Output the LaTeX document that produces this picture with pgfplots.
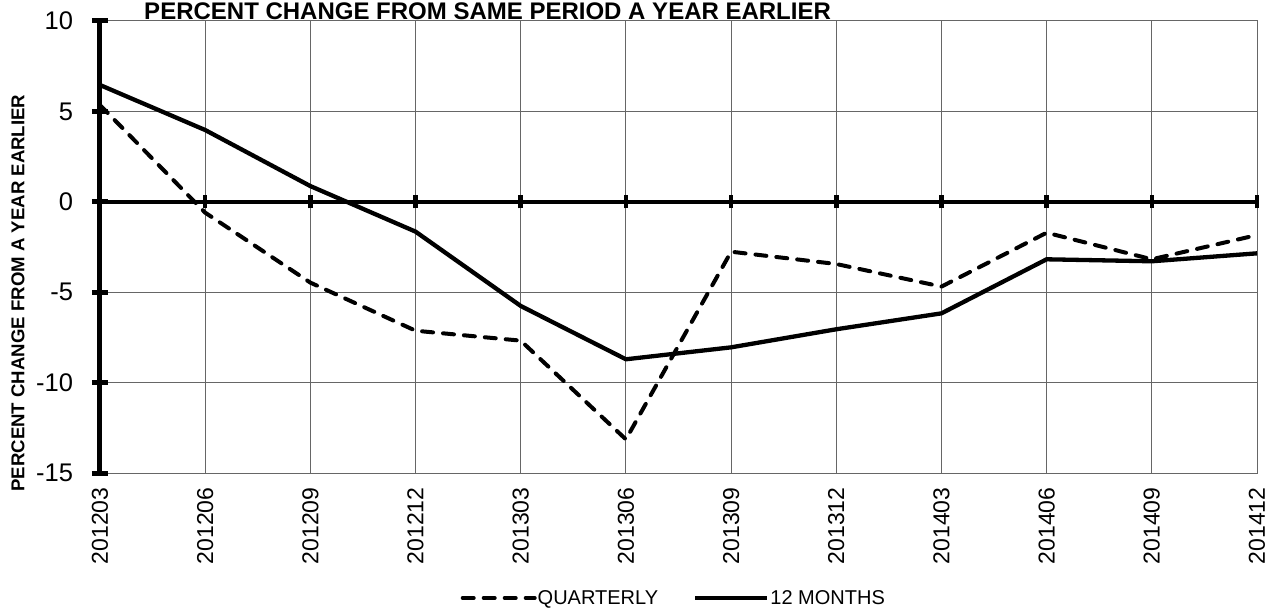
\documentclass[border=0pt]{standalone}
\usepackage{fontspec}
\setmainfont{Liberation Sans}
\usepackage{pgfplots}
\pgfplotsset{compat=1.18}
\usepackage{pgfplotstable}

\pgfplotstableread{
x q m
0 5.35 6.46
1 -0.60 3.97
2 -4.47 0.87
3 -7.13 -1.65
4 -7.68 -5.76
5 -13.14 -8.71
6 -2.76 -8.05
7 -3.44 -7.05
8 -4.69 -6.17
9 -1.71 -3.18
10 -3.18 -3.29
11 -1.84 -2.85
}\data

\begin{document}
\begin{tikzpicture}
\begin{axis}[name=ax, scale only axis, width=1157pt, height=452pt,
  xmin=0, xmax=11, ymin=-15, ymax=10, clip=false,
  xtick={0,...,11},
  xticklabels={201203,201206,201209,201212,201303,201306,201309,201312,201403,201406,201409,201412},
  x tick label style={rotate=90, anchor=east, yshift=0pt, xshift=-11pt, font=\fontsize{23}{26}\selectfont},
  ytick={-15,-10,...,10},
  y tick label style={xshift=-23.5pt, font=\fontsize{25.5}{28}\selectfont},
  /pgf/number format/assume math mode=true,
  major tick length=0pt,
  grid=major, grid style={black!60, line width=1pt},
  axis line style={black!60, line width=1pt},
  legend columns=2,
  legend style={at={(rel axis cs:0.4955,-0.2765)}, anchor=center, draw=none, fill=none,
    font=\fontsize{20}{22}\selectfont,
    nodes={inner sep=1pt},
    /tikz/every even column/.append style={column sep=34pt}},
  legend image code/.code={\draw[#1] (0pt,0pt) -- (72pt,0pt);},
]
\draw[line width=4.5pt] (axis cs:0,0) -- (axis cs:11,0);
\pgfplotsinvokeforeach{1,...,11}{\draw[line width=4.5pt] ([yshift=-6.5pt]axis cs:#1,0) -- ([yshift=6.5pt]axis cs:#1,0);}
\draw[line width=5pt] ([yshift=-2.5pt]axis cs:0,-15) -- ([yshift=2.5pt]axis cs:0,10);
\pgfplotsinvokeforeach{-15,-10,-5,0,5,10}{\draw[line width=5pt] ([xshift=-8pt]axis cs:0,#1) -- ([xshift=8pt]axis cs:0,#1);}
\addplot[black, line width=4pt, line cap=round, dash pattern=on 11pt off 10pt] table[x=x,y=q] {\data};
\addlegendentry{QUARTERLY}
\addplot[black, line width=4.3pt] table[x=x,y=m] {\data};
\addlegendentry{12 MONTHS}
\node[font=\bfseries\fontsize{24}{28}\selectfont, anchor=base] at (rel axis cs:0.335,1.0044) {PERCENT CHANGE FROM SAME PERIOD A YEAR EARLIER};
\node[font=\bfseries\fontsize{18.6}{22}\selectfont, rotate=90] at (rel axis cs:-0.0709,0.398) {PERCENT CHANGE FROM A YEAR EARLIER};
\end{axis}
\pgfresetboundingbox
\path[use as bounding box] ([xshift=-100pt,yshift=-138pt]ax.south west) rectangle ([xshift=20pt,yshift=21pt]ax.north east);
\end{tikzpicture}
\end{document}
